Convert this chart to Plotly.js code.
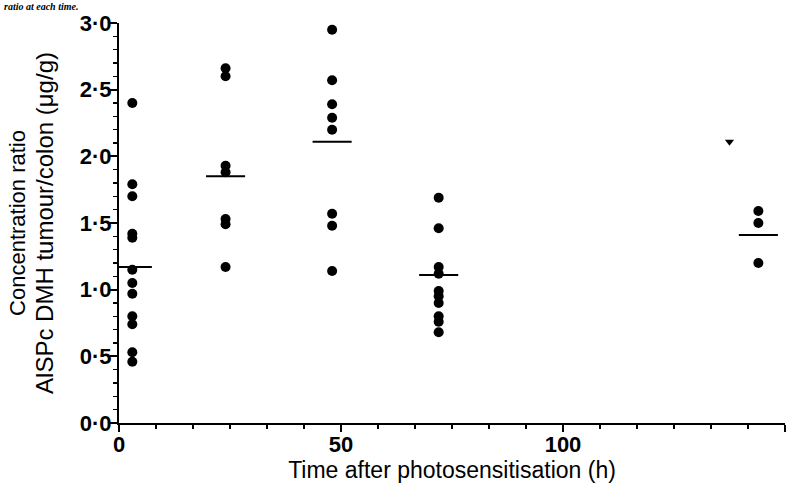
<!DOCTYPE html>
<html>
<head>
<meta charset="utf-8">
<script src="https://cdn.plot.ly/plotly-3.0.1.min.js"></script>
<style>html,body{margin:0;padding:0;background:#fff;}#chart{width:801px;height:484px;}</style>
</head>
<body>
<div id="chart"></div>
<script>
// ---- data ----
const times = [3, 24, 48, 72, 144];
const values3h = [2.40, 1.79, 1.70, 1.42, 1.39, 1.15, 1.05, 0.97, 0.80, 0.74, 0.53, 0.46];
const values24h = [2.66, 2.60, 1.93, 1.88, 1.53, 1.49, 1.17];
const values48h = [2.95, 2.57, 2.39, 2.29, 2.20, 1.57, 1.48, 1.14];
const values72h = [1.69, 1.46, 1.17, 1.12, 0.99, 0.95, 0.90, 0.80, 0.76, 0.68];
const values144h = [1.59, 1.50, 1.20];
const meanValues = [1.17, 1.85, 2.11, 1.11, 1.41];
const strayX = [137.5];
const strayY = [2.11];
const yTickValues = [0, 0.5, 1.0, 1.5, 2.0, 2.5, 3.0];
const yTickLabels = ['0·0', '0·5', '1·0', '1·5', '2·0', '2·5', '3·0'];
const xTickValues = [0, 50, 100, 150];
const xTickLabels = ['0', '50', '100', '150'];

// ---- build traces ----
const groups = [values3h, values24h, values48h, values72h, values144h];
const px = [], py = [];
groups.forEach((g, i) => g.forEach(v => { px.push(times[i]); py.push(v); }));

const halfWidth = 4.4;
const mx = [], my = [];
times.forEach((t, i) => { mx.push(t - halfWidth, t + halfWidth, null); my.push(meanValues[i], meanValues[i], null); });

const traces = [
  {x: px, y: py, type: 'scatter', mode: 'markers', cliponaxis: false,
   marker: {symbol: 'circle', size: 10, color: '#000'}, hoverinfo: 'x+y'},
  {x: strayX, y: strayY, type: 'scatter', mode: 'markers', cliponaxis: false,
   marker: {symbol: 'triangle-down', size: 8, color: '#000'}},
  {x: mx, y: my, type: 'scatter', mode: 'lines', line: {color: '#000', width: 2}}
];

const tickFont = {family: 'Liberation Sans, Arial, sans-serif', size: 22, color: '#000', weight: 'bold'};
const titleFont = {family: 'Liberation Sans, Arial, sans-serif', size: 22, color: '#000'};

const layout = {
  width: 801, height: 484,
  margin: {l: 119, r: 16, t: 23, b: 61},
  paper_bgcolor: '#fff', plot_bgcolor: '#fff',
  showlegend: false,
  xaxis: {
    range: [0, 150], showgrid: false, zeroline: false,
    showline: true, linecolor: '#000', linewidth: 2,
    ticks: 'outside', ticklen: 7, tickwidth: 2, tickcolor: '#000',
    tickvals: xTickValues, ticktext: xTickLabels, tickfont: tickFont,
    ticklabelstandoff: -6,
    minor: {dtick: 50 / 6, tick0: 0, ticks: 'outside', ticklen: 4, tickwidth: 1.5, tickcolor: '#000', showgrid: false},
    title: {text: 'Time after photosensitisation (h)', font: {family: 'Liberation Sans, Arial, sans-serif', size: 23, color: '#000'}, standoff: 4}
  },
  yaxis: {
    range: [0, 3], showgrid: false, zeroline: false,
    showline: true, linecolor: '#000', linewidth: 2,
    ticks: 'outside', ticklen: 7, tickwidth: 2, tickcolor: '#000',
    tickvals: yTickValues, ticktext: yTickLabels, tickfont: tickFont,
    ticklabelstandoff: -6,
    minor: {dtick: 0.1, tick0: 0, ticks: 'outside', ticklen: 4, tickwidth: 1.5, tickcolor: '#000', showgrid: false},
    title: {text: 'Concentration ratio<br><span style="font-size:24px">AlSPc DMH tumour/colon (μg/g)</span>', font: titleFont, standoff: 20}
  },
  annotations: [{
    text: '<i><b>ratio at each time.</b></i>', xref: 'paper', yref: 'paper',
    x: -0.176, y: 1, xanchor: 'left', yanchor: 'middle', yshift: 17, showarrow: false,
    font: {family: 'Liberation Serif, Times New Roman, serif', size: 10, color: '#000'}
  }]
};

Plotly.newPlot('chart', traces, layout, {displayModeBar: false, staticPlot: true});
</script>
</body>
</html>
